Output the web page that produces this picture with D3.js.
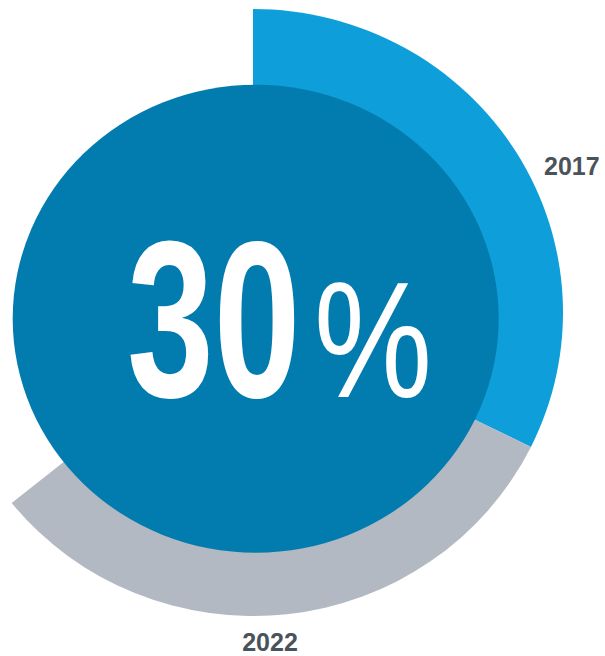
<!DOCTYPE html>
<html>
<head>
<meta charset="utf-8">
<script src="https://cdn.jsdelivr.net/npm/d3@7"></script>
<style>
  html, body { margin: 0; padding: 0; background: #fff; }
  svg { display: block; }
</style>
</head>
<body>
<svg id="chart" width="605" height="656"></svg>
<script>
// Ring segments, as a percent of one full turn, starting at 12 o'clock
const years = ["2017", "2022"];
const shares = [32.3, 31.9];
const segmentColors = ["#0e9fdb", "#b2b9c2"];

// Headline figure shown in the centre disc
const headlineNumber = "30";
const headlineUnit = "%";

const svg = d3.select("#chart");

const turn = d3.scaleLinear().domain([0, 100]).range([0, 2 * Math.PI]);

// cumulative start/end angles for each segment
let acc = 0;
const segments = years.map((y, i) => {
  const s = { year: y, value: shares[i], color: segmentColors[i],
              startAngle: turn(acc), endAngle: turn(acc + shares[i]) };
  acc += shares[i];
  return s;
});

// outer ring (slightly wider than tall)
const ringR = 303.5, ringRx = 310;
const ring = svg.append("g")
  .attr("transform", `translate(253,312.5) scale(${ringRx / ringR},1)`);

const arc = d3.arc().innerRadius(0).outerRadius(ringR);

ring.selectAll("path")
  .data(segments)
  .join("path")
  .attr("d", arc)
  .attr("fill", d => d.color);

// centre disc
svg.append("ellipse")
  .attr("cx", 255.7)
  .attr("cy", 318.7)
  .attr("rx", 243)
  .attr("ry", 234)
  .attr("fill", "#027caf");

// headline
svg.append("text")
  .attr("transform", "translate(127,397) scale(0.70,1)")
  .attr("font-family", "'Liberation Sans', Arial, sans-serif")
  .attr("font-weight", "bold")
  .attr("font-size", 223)
  .attr("fill", "#ffffff")
  .text(headlineNumber);

svg.append("text")
  .attr("transform", "translate(314,397) scale(0.80,1)")
  .attr("font-family", "'Liberation Sans', Arial, sans-serif")
  .attr("font-weight", "normal")
  .attr("font-size", 166)
  .attr("fill", "#ffffff")
  .text(headlineUnit);

// year labels
const labelPos = [
  { x: 544, y: 175, anchor: "start" },
  { x: 270, y: 651, anchor: "middle" }
];
svg.selectAll("text.year")
  .data(segments)
  .join("text")
  .attr("class", "year")
  .attr("x", (d, i) => labelPos[i].x)
  .attr("y", (d, i) => labelPos[i].y)
  .attr("text-anchor", (d, i) => labelPos[i].anchor)
  .attr("font-family", "'Liberation Sans', Arial, sans-serif")
  .attr("font-weight", "bold")
  .attr("font-size", 25)
  .attr("fill", "#4b535a")
  .text(d => d.year);
</script>
</body>
</html>
